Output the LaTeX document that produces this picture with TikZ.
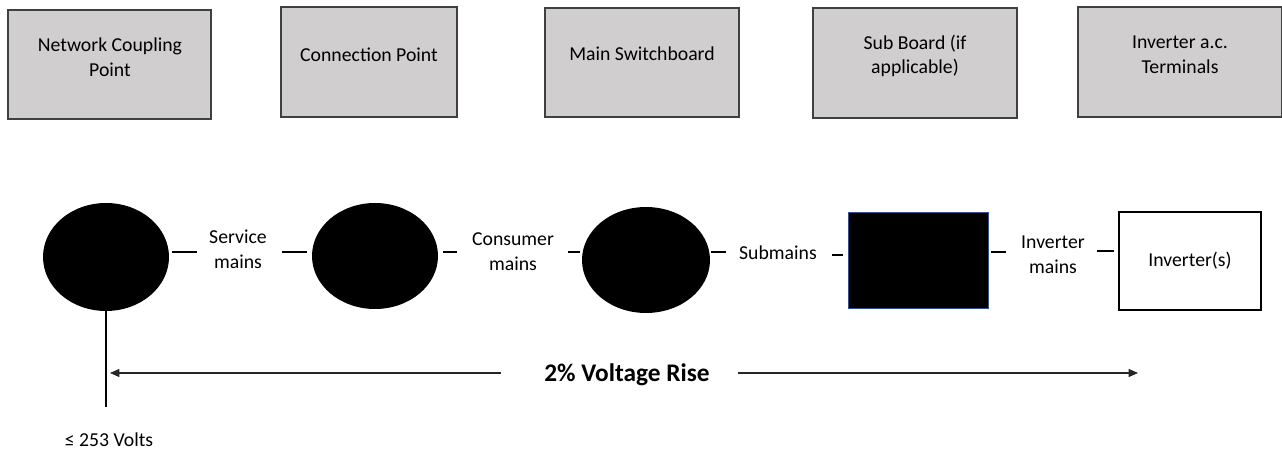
\documentclass[tikz,border=0pt]{standalone}
\usepackage{fontspec}
\setmainfont{Carlito}
\usepackage{tikz}
\usetikzlibrary{arrows.meta,positioning,calc,shapes.geometric}
\definecolor{boxgray}{HTML}{D0CECE}
\definecolor{edgegray}{HTML}{404040}
\definecolor{rimblue}{HTML}{2F528F}

\tikzset{
    topbox/.style={draw=edgegray, line width=1.1pt, fill=boxgray},
    blob/.style={ellipse, fill=black, inner sep=0pt},
    wire/.style={line width=1.5pt},
    lbl/.style={align=center, font=\fontsize{14.8}{18.5}\selectfont, inner sep=1pt},
    arr/.style={line width=0.9pt, draw=black!85, -{Triangle[length=7pt, width=6pt]}}
}

\begin{document}
\begin{tikzpicture}[x=0.75pt, y=-0.75pt, >=stealth]
    \useasboundingbox (0,0) rectangle (1282,452);

    % Top row of labels
    \draw[topbox] (8,10) rectangle (211,119);
    \node[lbl] (ncp) at (110,57) {Network Coupling\\Point};
    \draw[topbox] (281,7) rectangle (457,117);
    \node[lbl] (cp) at (369,55) {Connection Point};
    \draw[topbox] (545,8) rectangle (739,117);
    \node[lbl] (msb) at (642,54) {Main Switchboard};
    \draw[topbox] (813,8) rectangle (1017,118);
    \node[lbl] (sbd) at (915,56) {Sub Board (if\\applicable)};
    \draw[topbox] (1078,7) rectangle (1282,117);
    \node[lbl] (iac) at (1180,55) {Inverter a.c.\\Terminals};

    % Bottom row
    \node[blob, minimum width=94.5pt, minimum height=81pt] (c1) at (106,257) {};
    \node[blob, minimum width=94.5pt, minimum height=79.5pt] (c2) at (375,256) {};
    \node[blob, minimum width=96pt, minimum height=79.5pt] (c3) at (646,260) {};
    \node[draw=rimblue, line width=0.7pt, fill=black, minimum width=105pt,
        minimum height=72pt, inner sep=0pt] (sub) at (918,260) {};
    \node[draw=black, line width=1pt, fill=white, minimum width=106.5pt,
        minimum height=73.5pt, inner sep=0pt, font=\fontsize{14.8}{18.5}\selectfont] (inv) at (1190,261) {Inverter(s)};

    \node[lbl] (svc) at (238,249) {Service\\mains};
    \node[lbl] (con) at (513,252) {Consumer\\mains};
    \node[lbl] (smn) at (778,253) {Submains};
    \node[lbl] (ivm) at (1053,255) {Inverter\\mains};

    % short wire stubs
    \draw[wire] ($(c1.east)+(3,-5)$) -- ++(25,0);
    \draw[wire] ($(c2.west)+(-5,-4)$) -- ++(-25,0);
    \draw[wire] ($(c2.east)+(5,-4)$) -- ++(14,0);
    \draw[wire] ($(c3.west)+(-2,-8)$) -- ++(-12,0);
    \draw[wire] ($(c3.east)+(1,-8)$) -- ++(15,0);
    \draw[wire] ($(sub.west)+(-5,-5)$) -- ++(-11,0);
    \draw[wire] ($(sub.east)+(3,-8)$) -- ++(15,0);
    \draw[wire] ($(inv.west)+(-4,-10)$) -- ++(-17,0);

    % Voltage rise span
    \coordinate (vbot) at ($(c1.south)+(0,96)$);
    \draw[wire] (c1.south) -- (vbot);
    \node[font=\fontsize{19}{22}\bfseries] (rise) at (627,375) {2\% Voltage Rise};
    \coordinate (lend) at (110,373);
    \coordinate (rend) at (1138,373);
    \draw[arr] ($(rise.west)+(-39,-2)$) -- (lend);
    \draw[arr] ($(rise.east)+(24,-2)$) -- (rend);

    \node[font=\fontsize{14.8}{18.5}\selectfont] (volts) at (109,440) {≤ 253 Volts};
\end{tikzpicture}
\end{document}
